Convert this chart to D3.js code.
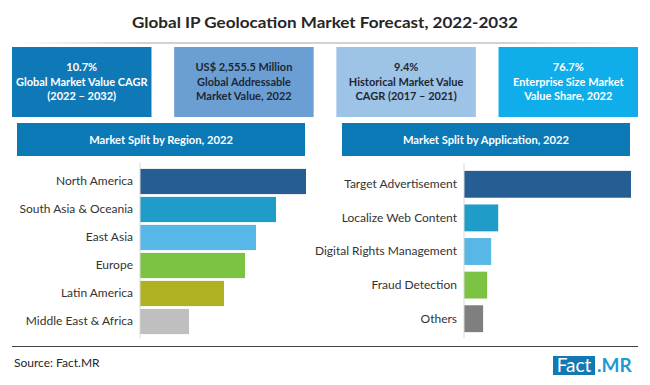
<!DOCTYPE html>
<html>
<head>
<meta charset="utf-8">
<script src="https://cdn.jsdelivr.net/npm/d3@7"></script>
<style>
  body { margin: 0; background: #fff; }
  svg { display: block; font-family: Lato, "Open Sans", sans-serif; }
</style>
</head>
<body>
<div id="chart"></div>
<script>
// chart values
var kpiLines = [
    ["10.7%", "Global Market Value CAGR", "(2022 \u2013 2032)"],
    ["US$ 2,555.5 Million", "Global Addressable", "Market Value, 2022"],
    ["9.4%", "Historical Market Value", "CAGR (2017 \u2013 2021)"],
    ["76.7%", "Enterprise Size Market", "Value Share, 2022"]
];
var kpiFill = ["#0f78b6", "#6b9fd3", "#9dc3e6", "#0fadea"];
var kpiText = ["#ffffff", "#1d2735", "#1d2735", "#ffffff"];

var regions = ["North America", "South Asia & Oceania", "East Asia", "Europe", "Latin America", "Middle East & Africa"];
var regionValues = [33.2, 27.2, 23.2, 21.0, 16.8, 9.8];
var regionColors = ["#265d92", "#1f9dc8", "#57b7e7", "#7cc243", "#b0b023", "#bfbfbf"];

var applications = ["Target Advertisement", "Localize Web Content", "Digital Rights Management", "Fraud Detection", "Others"];
var applicationValues = [66.4, 13.6, 10.8, 9.2, 7.6];
var applicationColors = ["#265d92", "#1f9dc8", "#57b7e7", "#7cc243", "#7f7f7f"];

var W = 650, H = 385;

var svg = d3.select("#chart")
    .append("svg")
    .attr("width", W)
    .attr("height", H);

// gradient for the thin rule under the title
var grad = svg.append("defs").append("linearGradient").attr("id", "rule");
grad.append("stop").attr("offset", "0%").attr("stop-color", "#ffffff");
grad.append("stop").attr("offset", "20%").attr("stop-color", "#a6a6a6");
grad.append("stop").attr("offset", "80%").attr("stop-color", "#a6a6a6");
grad.append("stop").attr("offset", "100%").attr("stop-color", "#ffffff");

svg.append("text")
    .attr("x", 325).attr("y", 28)
    .attr("text-anchor", "middle")
    .attr("font-size", 16)
    .attr("font-weight", "bold")
    .attr("fill", "#262626")
    .attr("textLength", 386)
    .attr("lengthAdjust", "spacingAndGlyphs")
    .text("Global IP Geolocation Market Forecast, 2022-2032");

svg.append("rect")
    .attr("x", 20).attr("y", 42.5).attr("width", 610).attr("height", 1)
    .attr("fill", "url(#rule)");

// KPI boxes
var kpiX = d3.scaleBand().domain(d3.range(kpiLines.length)).range([12, 638]).paddingInner(0.14);

var kpi = svg.selectAll(".kpi")
    .data(kpiLines)
    .enter()
    .append("g")
    .attr("class", "kpi")
    .attr("transform", function(d, i) { return "translate(" + kpiX(i) + ",47)"; });

kpi.append("rect")
    .attr("width", kpiX.bandwidth())
    .attr("height", 70)
    .attr("fill", function(d, i) { return kpiFill[i]; });

kpi.each(function(d, i) {
    var g = d3.select(this);
    d.forEach(function(line, j) {
        g.append("text")
            .attr("x", kpiX.bandwidth() / 2)
            .attr("y", 24 + j * 14.5)
            .attr("text-anchor", "middle")
            .attr("font-size", 11)
            .attr("font-weight", "bold")
            .attr("fill", kpiText[i])
            .text(line);
    });
});

// one bar panel
var drawPanel = function (title, x0, x1, axisX, cats, vals, cols, pad) {
    svg.append("rect")
        .attr("x", x0).attr("y", 123)
        .attr("width", x1 - x0).attr("height", 33)
        .attr("fill", "#0b79b6");

    svg.append("text")
        .attr("x", (x0 + x1) / 2).attr("y", 143.5)
        .attr("text-anchor", "middle")
        .attr("font-size", 11.2)
        .attr("font-weight", "bold")
        .attr("fill", "#ffffff")
        .text(title);

    var y = d3.scaleBand().domain(cats).range([167.5, 335.5]).paddingInner(pad).paddingOuter(pad / 2);
    var x = d3.scaleLinear().domain([0, d3.max(vals)]).range([axisX, x1 + 1]);

    svg.selectAll(null)
        .data(cats)
        .enter()
        .append("rect")
        .attr("x", axisX)
        .attr("y", function(d) { return y(d); })
        .attr("width", function(d, i) { return x(vals[i]) - axisX; })
        .attr("height", y.bandwidth())
        .attr("fill", function(d, i) { return cols[i]; });

    var axis = svg.append("g")
        .attr("transform", "translate(" + axisX + ",0)")
        .call(d3.axisLeft(y).tickSize(0).tickPadding(7));
    axis.select(".domain").attr("stroke", "#d9d9d9").attr("d", "M0,163V338");
    axis.selectAll("text")
        .attr("font-family", "Lato, 'Open Sans', sans-serif")
        .attr("font-size", 12)
        .attr("fill", "#333333");
};

drawPanel("Market Split by Region, 2022", 17, 305, 140, regions, regionValues, regionColors, 0.1);
drawPanel("Market Split by Application, 2022", 342, 630, 464, applications, applicationValues, applicationColors, 0.2);

// footer
svg.append("line")
    .attr("x1", 12).attr("x2", 638)
    .attr("y1", 346.5).attr("y2", 346.5)
    .attr("stroke", "#404040");

svg.append("text")
    .attr("x", 14).attr("y", 367)
    .attr("font-size", 12)
    .attr("fill", "#262626")
    .text("Source: Fact.MR");

svg.append("rect")
    .attr("x", 553).attr("y", 356).attr("width", 42).attr("height", 19)
    .attr("fill", "#1479b3");

svg.append("text")
    .attr("x", 574).attr("y", 372)
    .attr("text-anchor", "middle")
    .attr("font-size", 19)
    .attr("fill", "#ffffff")
    .text("Fact");

svg.append("text")
    .attr("x", 597).attr("y", 372)
    .attr("font-size", 19)
    .attr("font-weight", "bold")
    .attr("fill", "#1b9ad8")
    .text(".MR");
</script>
</body>
</html>
